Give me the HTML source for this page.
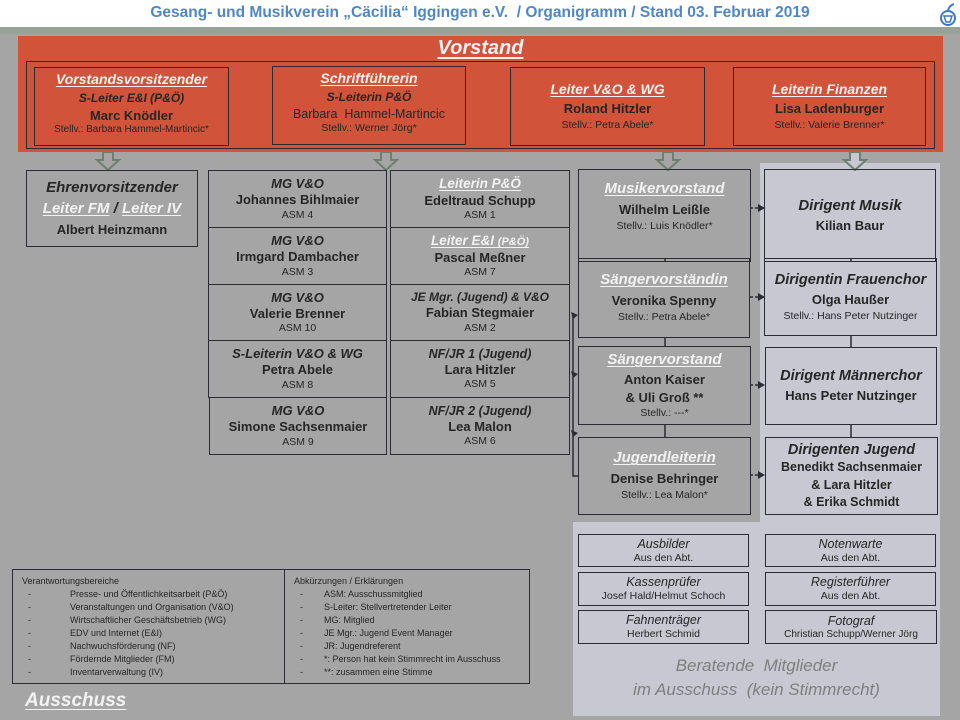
<!DOCTYPE html>
<html><head><meta charset="utf-8">
<style>
*{margin:0;padding:0;box-sizing:border-box}
body{width:960px;height:720px;position:relative;overflow:hidden;background:#a5a5a5;font-family:"Liberation Sans",sans-serif;color:#262626}
.a{position:absolute}
.b{position:absolute;border:1.5px solid #2b2b33;display:flex;flex-direction:column;align-items:center;justify-content:center;text-align:center;line-height:1.25;white-space:nowrap}
.t{font-weight:bold;font-style:italic;font-size:14px}
.u{color:#f2f2f2;text-decoration:underline;text-decoration-thickness:1px;text-underline-offset:2px}
.n{font-weight:bold;font-size:13px}
.s{font-size:10.5px}
.rb .t{font-size:14px}
.lt{background:#c8c8d2}
.lg{font-size:9px;line-height:13px}
.lg div span{display:inline-block;width:48px;padding-left:6px}
</style></head><body>
<div class="a" style="left:0;top:0;width:960px;height:27px;background:#fff"></div>
<div class="a" style="left:0;top:4px;width:960px;text-align:center;font-weight:bold;font-size:15.5px;color:#4f87c6">Gesang- und Musikverein „Cäcilia“ Iggingen e.V.&nbsp; / Organigramm / Stand 03. Februar 2019</div>
<svg class="a" style="left:938px;top:2px" width="22" height="26"><circle cx="10" cy="16" r="7" fill="none" stroke="#3b78c8" stroke-width="2"/><path d="M6 14 L14 14 L12 20 L8 20 Z" fill="none" stroke="#3b78c8" stroke-width="1.5"/><path d="M10 8 Q12 3 16 2" fill="none" stroke="#3b78c8" stroke-width="2"/></svg>
<div class="a" style="left:0;top:27px;width:960px;height:7px;background:#97a298"></div>

<!-- light panels -->
<div class="a lt" style="left:760px;top:163px;width:180px;height:360px"></div>
<div class="a lt" style="left:573px;top:522px;width:367px;height:194px"></div>

<!-- Vorstand -->
<div class="a" style="left:18px;top:36px;width:925px;height:116px;background:#d0533a"></div>
<div class="a" style="left:18px;top:37px;width:925px;text-align:center;font-weight:bold;font-style:italic;font-size:20px;color:#f2f2f2;text-decoration:underline;text-underline-offset:3px">Vorstand</div>
<div class="a" style="left:26px;top:61px;width:909px;height:88px;border:1.5px solid #2b2b33"></div>
<div class="b" style="left:34px;top:67px;width:195px;height:79px;justify-content:flex-start;padding-top:3px"><div class="t u" style="font-size:14px">Vorstandsvorsitzender</div><div class="t" style="font-size:12px;margin-top:2px">S-Leiter E&amp;I (P&amp;Ö)</div><div class="n" style="margin-top:2px">Marc Knödler</div><div class="s" style="font-size:10px">Stellv.: Barbara Hammel-Martincic*</div></div>
<div class="b" style="left:272px;top:66px;width:194px;height:79px;justify-content:flex-start;padding-top:3px"><div class="t u">Schriftführerin</div><div class="t" style="font-size:12px;margin-top:2px">S-Leiterin P&amp;Ö</div><div class="n" style="margin-top:2px;font-weight:normal;font-size:12.5px">Barbara&nbsp; Hammel-Martincic</div><div class="s">Stellv.: Werner Jörg*</div></div>
<div class="b" style="left:510px;top:67px;width:195px;height:79px"><div class="t u">Leiter V&amp;O &amp; WG</div><div class="n" style="margin-top:3px">Roland Hitzler</div><div class="s" style="margin-top:2px">Stellv.: Petra Abele*</div></div>
<div class="b" style="left:733px;top:67px;width:193px;height:79px"><div class="t u">Leiterin Finanzen</div><div class="n" style="margin-top:3px">Lisa Ladenburger</div><div class="s" style="margin-top:2px">Stellv.: Valerie Brenner*</div></div>

<!-- arrows -->
<svg class="a" style="left:0;top:150px" width="960" height="22">
<g fill="#a5a5a5" stroke="#6f7f6f" stroke-width="2">
<path d="M103 2 H113 V10 H119 L108 20 L97 10 H103 Z"/>
<path d="M381 2 H391 V10 H397 L386 20 L375 10 H381 Z"/>
<path d="M663 2 H673 V10 H679 L668 20 L657 10 H663 Z"/>
<path d="M850 2 H860 V10 H866 L855 20 L844 10 H850 Z" fill="#c8c8d2"/>
</g></svg>

<!-- Ehrenvors -->
<div class="b" style="left:26px;top:170px;width:172px;height:77px"><div class="t" style="font-size:15px">Ehrenvorsitzender</div><div class="t" style="font-size:15px;margin-top:2px"><span class="u">Leiter FM</span> / <span class="u">Leiter IV</span></div><div class="n" style="margin-top:3px">Albert Heinzmann</div></div>

<!-- column 1 -->
<div class="b" style="left:208px;top:170px;width:179px;height:58px"><div class="t" style="font-size:13px">MG V&amp;O</div><div class="n">Johannes Bihlmaier</div><div class="s">ASM 4</div></div>
<div class="b" style="left:208px;top:227px;width:179px;height:58px"><div class="t" style="font-size:13px">MG V&amp;O</div><div class="n">Irmgard Dambacher</div><div class="s">ASM 3</div></div>
<div class="b" style="left:208px;top:284px;width:179px;height:57px"><div class="t" style="font-size:13px">MG V&amp;O</div><div class="n">Valerie Brenner</div><div class="s">ASM 10</div></div>
<div class="b" style="left:208px;top:340px;width:179px;height:58px"><div class="t" style="font-size:13px">S-Leiterin V&amp;O &amp; WG</div><div class="n">Petra Abele</div><div class="s">ASM 8</div></div>
<div class="b" style="left:209px;top:397px;width:178px;height:58px"><div class="t" style="font-size:13px">MG V&amp;O</div><div class="n">Simone Sachsenmaier</div><div class="s">ASM 9</div></div>

<!-- column 2 -->
<div class="b" style="left:390px;top:170px;width:180px;height:58px"><div class="t u" style="font-size:13.5px">Leiterin P&amp;Ö</div><div class="n">Edeltraud Schupp</div><div class="s">ASM 1</div></div>
<div class="b" style="left:390px;top:227px;width:180px;height:58px"><div class="t u" style="font-size:13.5px">Leiter E&amp;I <span style="font-size:11px">(P&amp;Ö)</span></div><div class="n">Pascal Meßner</div><div class="s">ASM 7</div></div>
<div class="b" style="left:390px;top:284px;width:180px;height:57px"><div class="t" style="font-size:12px">JE Mgr. (Jugend) &amp; V&amp;O</div><div class="n">Fabian Stegmaier</div><div class="s">ASM 2</div></div>
<div class="b" style="left:390px;top:340px;width:180px;height:58px"><div class="t" style="font-size:12.5px">NF/JR 1 (Jugend)</div><div class="n">Lara Hitzler</div><div class="s">ASM 5</div></div>
<div class="b" style="left:390px;top:397px;width:180px;height:58px"><div class="t" style="font-size:12.5px">NF/JR 2 (Jugend)</div><div class="n">Lea Malon</div><div class="s">ASM 6</div></div>

<!-- connectors -->
<svg class="a" style="left:0;top:0" width="960" height="720">
<g stroke="#2b2b33" stroke-width="1.5" fill="none">
<path d="M573 313 V476 H578"/>
<path d="M665 262 V258 M665 338 V346 M665 425 V437"/>
<path d="M851 262 V258 M851 335 V347 M851 425 V437"/>
<path d="M750 208 H760 M750 297 H760 M750 385 H760 M750 475 H760" stroke-dasharray="3,2"/>
</g>
<g fill="#2b2b33">
<path d="M571 312 L578 315 L573 319 Z"/><path d="M571 371 L578 374 L573 378 Z"/><path d="M571 430 L578 433 L573 437 Z"/>
<path d="M758 204 L765 208 L758 212 Z"/><path d="M758 293 L765 297 L758 301 Z"/><path d="M758 381 L765 385 L758 389 Z"/><path d="M758 471 L765 475 L758 479 Z"/>
</g></svg>

<!-- column 3 -->
<div class="b" style="left:578px;top:169px;width:173px;height:93px;justify-content:flex-start;padding-top:10px"><div class="t u" style="font-size:15px">Musikervorstand</div><div class="n" style="margin-top:3px">Wilhelm Leißle</div><div class="s" style="margin-top:2px">Stellv.: Luis Knödler*</div></div>
<div class="b" style="left:578px;top:258px;width:172px;height:80px"><div class="t u" style="font-size:15px">Sängervorständin</div><div class="n" style="margin-top:3px">Veronika Spenny</div><div class="s" style="margin-top:2px">Stellv.: Petra Abele*</div></div>
<div class="b" style="left:578px;top:346px;width:173px;height:79px"><div class="t u" style="font-size:15px">Sängervorstand</div><div class="n" style="margin-top:2px">Anton Kaiser</div><div class="n" style="margin-top:2px">&amp; Uli Groß **</div><div class="s">Stellv.: ---*</div></div>
<div class="b" style="left:578px;top:437px;width:173px;height:78px"><div class="t u" style="font-size:15px">Jugendleiterin</div><div class="n" style="margin-top:3px">Denise Behringer</div><div class="s" style="margin-top:2px">Stellv.: Lea Malon*</div></div>

<!-- column 4 -->
<div class="b" style="left:764px;top:169px;width:172px;height:93px"><div class="t" style="font-size:15px">Dirigent Musik</div><div class="n" style="margin-top:3px">Kilian Baur</div></div>
<div class="b" style="left:764px;top:258px;width:173px;height:78px"><div class="t" style="font-size:14.5px">Dirigentin Frauenchor</div><div class="n" style="margin-top:3px">Olga Haußer</div><div class="s" style="margin-top:2px">Stellv.: Hans Peter Nutzinger</div></div>
<div class="b" style="left:765px;top:347px;width:172px;height:78px"><div class="t" style="font-size:14.5px">Dirigent Männerchor</div><div class="n" style="margin-top:3px">Hans Peter Nutzinger</div></div>
<div class="b" style="left:765px;top:437px;width:173px;height:78px"><div class="t" style="font-size:14.5px">Dirigenten Jugend</div><div class="n" style="margin-top:1px;font-size:12.5px">Benedikt Sachsenmaier</div><div class="n" style="font-size:12.5px;margin-top:2px">&amp; Lara Hitzler</div><div class="n" style="font-size:12.5px;margin-top:2px">&amp; Erika Schmidt</div></div>

<!-- beratende -->
<div class="b" style="left:578px;top:534px;width:171px;height:33px;line-height:1.2"><div class="t" style="font-size:12.5px;font-weight:normal">Ausbilder</div><div style="font-size:10.5px">Aus den Abt.</div></div>
<div class="b" style="left:765px;top:534px;width:171px;height:33px;line-height:1.2"><div class="t" style="font-size:12.5px;font-weight:normal">Notenwarte</div><div style="font-size:10.5px">Aus den Abt.</div></div>
<div class="b" style="left:578px;top:572px;width:171px;height:34px;line-height:1.2"><div class="t" style="font-size:12.5px;font-weight:normal">Kassenprüfer</div><div style="font-size:10.5px">Josef Hald/Helmut Schoch</div></div>
<div class="b" style="left:765px;top:572px;width:171px;height:34px;line-height:1.2"><div class="t" style="font-size:12.5px;font-weight:normal">Registerführer</div><div style="font-size:10.5px">Aus den Abt.</div></div>
<div class="b" style="left:578px;top:610px;width:171px;height:34px;line-height:1.2"><div class="t" style="font-size:12.5px;font-weight:normal">Fahnenträger</div><div style="font-size:10.5px">Herbert Schmid</div></div>
<div class="b" style="left:765px;top:610px;width:172px;height:34px;line-height:1.2"><div class="t" style="font-size:12.5px;font-weight:normal">Fotograf</div><div style="font-size:10px">Christian Schupp/Werner Jörg</div></div>
<div class="a" style="left:573px;top:654px;width:367px;text-align:center;font-style:italic;font-size:17px;color:#7f7f7f;line-height:24px">Beratende&nbsp; Mitglieder<br>im Ausschuss&nbsp; (kein Stimmrecht)</div>

<!-- legend -->
<div class="a lg" style="left:12px;top:569px;width:273px;height:115px;border:1.5px solid #2b2b33;padding:5px 0 0 9px">
<div>Verantwortungsbereiche</div>
<div><span>-</span>Presse- und Öffentlichkeitsarbeit (P&amp;Ö)</div>
<div><span>-</span>Veranstaltungen und Organisation (V&amp;O)</div>
<div><span>-</span>Wirtschaftlicher Geschäftsbetrieb (WG)</div>
<div><span>-</span>EDV und Internet (E&amp;I)</div>
<div><span>-</span>Nachwuchsförderung (NF)</div>
<div><span>-</span>Fördernde Mitglieder (FM)</div>
<div><span>-</span>Inventarverwaltung (IV)</div>
</div>
<div class="a lg" style="left:284px;top:569px;width:246px;height:115px;border:1.5px solid #2b2b33;padding:5px 0 0 9px">
<div>Abkürzungen / Erklärungen</div>
<div><span style="width:30px">-</span>ASM: Ausschussmitglied</div>
<div><span style="width:30px">-</span>S-Leiter: Stellvertretender Leiter</div>
<div><span style="width:30px">-</span>MG: Mitglied</div>
<div><span style="width:30px">-</span>JE Mgr.: Jugend Event Manager</div>
<div><span style="width:30px">-</span>JR: Jugendreferent</div>
<div><span style="width:30px">-</span>*: Person hat kein Stimmrecht im Ausschuss</div>
<div><span style="width:30px">-</span>**: zusammen eine Stimme</div>
</div>
<div class="a" style="left:25px;top:690px;font-weight:bold;font-style:italic;font-size:19px;color:#f2f2f2;text-decoration:underline;text-underline-offset:3px">Ausschuss</div>
</body></html>
